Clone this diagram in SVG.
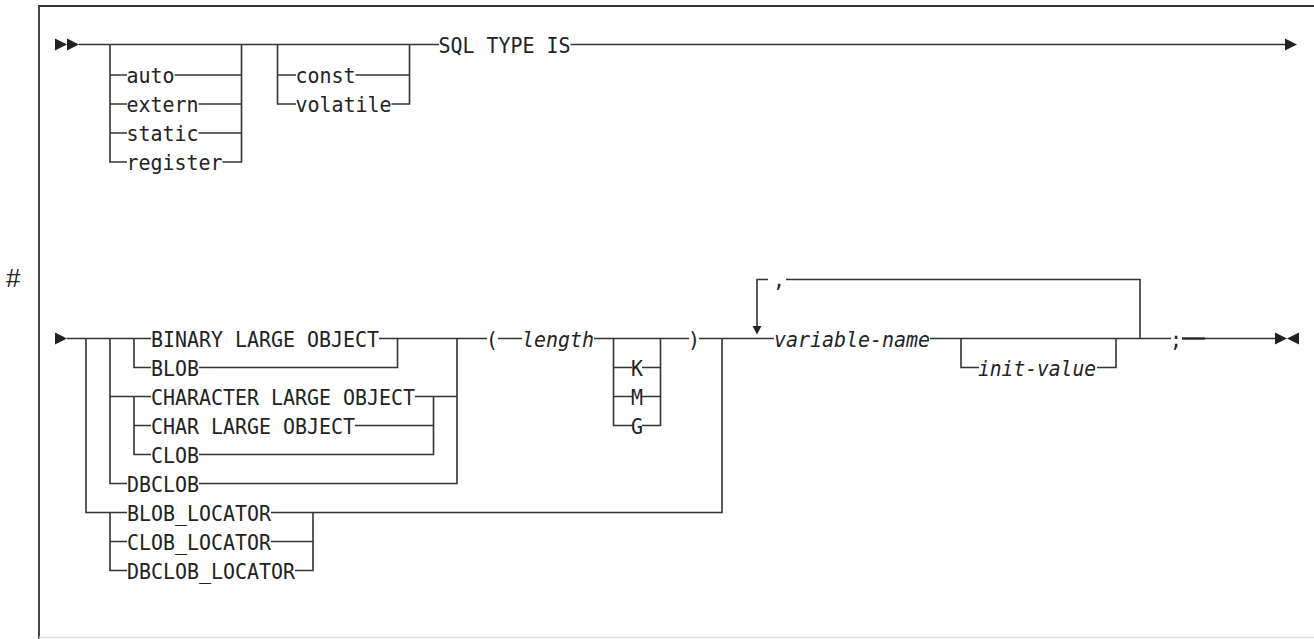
<svg xmlns="http://www.w3.org/2000/svg" width="1314" height="639" viewBox="0 0 1314 639">
<style>
.ln{stroke:#333;stroke-width:1.6;fill:none}
.thk{stroke:#222;stroke-width:2.4;fill:none}
.frame{stroke:#333;stroke-width:1.8;fill:none}
.ar{fill:#222;stroke:none}
.t{font-family:"DejaVu Sans Mono",monospace;font-size:22px;fill:#222}
.i{font-style:italic}
.h{font-family:"Liberation Sans",Arial,sans-serif;font-size:26px;fill:#222}
</style>
<rect width="1314" height="639" fill="#fff"/>
<g id="frame">
<path class="frame" d="M1314 6 H39 V639"/>
<path d="M39 637.5 H1314" stroke="#ddd" stroke-width="1.5"/>
<text class="h" x="6" y="286.5">#</text>
</g>
<g id="connectors">
<!-- top row -->
<path class="ln" d="M79 44.5 H439 M570.5 44.5 H1286"/>
<path class="ln" d="M110 44.5 V162 H127 M110 75 H127 M110 104 H127 M110 133 H127"/>
<path class="ln" d="M241.5 44.5 V162 H222.5 M174.5 75 H241.5 M198.5 104 H241.5 M198.5 133 H241.5"/>
<path class="ln" d="M277.5 44.5 V104 H296 M277.5 75 H296"/>
<path class="ln" d="M409.5 44.5 V104 H391.5 M355.5 75 H409.5"/>
<!-- bottom row main -->
<path class="ln" d="M67 338.5 H151 M379 338.5 H487 M498 338.5 H522 M594 338.5 H689 M699 338.5 H774 M930 338.5 H1171"/>
<path class="thk" d="M1182 338.5 H1205"/>
<path class="ln" d="M1205 338.5 H1276"/>
<!-- LOB groups -->
<path class="ln" d="M86 338.5 V512.5 H127"/>
<path class="ln" d="M110 338.5 V483.5 H127 M110 396.5 H151"/>
<path class="ln" d="M134 338.5 V367.5 H151"/>
<path class="ln" d="M134 396.5 V454.5 H151 M134 425.5 H151"/>
<path class="ln" d="M397.5 338.5 V367.5 H199"/>
<path class="ln" d="M433.5 396.5 V454.5 H199 M355 425.5 H433.5 M415 396.5 H457"/>
<path class="ln" d="M457 338.5 V483.5 H199"/>
<!-- locator group -->
<path class="ln" d="M110 512.5 V570.5 H127 M110 541.5 H127"/>
<path class="ln" d="M313 512.5 V570.5 H295 M271 541.5 H313"/>
<path class="ln" d="M271 512.5 H722 V338.5"/>
<!-- K M G -->
<path class="ln" d="M613.5 338.5 V425.5 H632 M613.5 367.5 H632 M613.5 396.5 H632"/>
<path class="ln" d="M660.5 338.5 V425.5 H642 M642 367.5 H660.5 M642 396.5 H660.5"/>
<!-- repeat loop -->
<path class="ln" d="M757 327 V279.5 H768 M786 279.5 H1140 V338.5"/>
<polygon class="ar" points="752.5,326 761.5,326 757,334.5"/>
<!-- init-value -->
<path class="ln" d="M961 338.5 V367.5 H979 M1097 367.5 H1116 V338.5"/>
<!-- arrows -->
<polygon class="ar" points="55,38.5 67,44.5 55,50.5"/>
<polygon class="ar" points="67,38.5 79,44.5 67,50.5"/>
<polygon class="ar" points="1285,38.5 1297,44.5 1285,50.5"/>
<polygon class="ar" points="55,332.5 67,338.5 55,344.5"/>
<polygon class="ar" points="1275,332.5 1287,338.5 1275,344.5"/>
<polygon class="ar" points="1299,332.5 1287,338.5 1299,344.5"/>
</g>
<g id="n-auto"><text class="t" x="126.5" y="83" textLength="48" lengthAdjust="spacingAndGlyphs">auto</text></g>
<g id="n-extern"><text class="t" x="126.5" y="112" textLength="72" lengthAdjust="spacingAndGlyphs">extern</text></g>
<g id="n-static"><text class="t" x="126.5" y="141" textLength="72" lengthAdjust="spacingAndGlyphs">static</text></g>
<g id="n-register"><text class="t" x="126.5" y="170" textLength="96" lengthAdjust="spacingAndGlyphs">register</text></g>
<g id="n-const"><text class="t" x="295.5" y="83" textLength="60" lengthAdjust="spacingAndGlyphs">const</text></g>
<g id="n-volatile"><text class="t" x="295.5" y="112" textLength="96" lengthAdjust="spacingAndGlyphs">volatile</text></g>
<g id="n-sqltype"><text class="t" x="438.5" y="52.5" textLength="132" lengthAdjust="spacingAndGlyphs">SQL TYPE IS</text></g>
<g id="n-binary"><text class="t" x="151" y="346.5" textLength="228" lengthAdjust="spacingAndGlyphs">BINARY LARGE OBJECT</text></g>
<g id="n-blob"><text class="t" x="151" y="375.5" textLength="48" lengthAdjust="spacingAndGlyphs">BLOB</text></g>
<g id="n-character"><text class="t" x="151" y="404.5" textLength="264" lengthAdjust="spacingAndGlyphs">CHARACTER LARGE OBJECT</text></g>
<g id="n-char"><text class="t" x="151" y="433.5" textLength="204" lengthAdjust="spacingAndGlyphs">CHAR LARGE OBJECT</text></g>
<g id="n-clob"><text class="t" x="151" y="462.5" textLength="48" lengthAdjust="spacingAndGlyphs">CLOB</text></g>
<g id="n-dbclob"><text class="t" x="127" y="491.5" textLength="72" lengthAdjust="spacingAndGlyphs">DBCLOB</text></g>
<g id="n-blobloc"><text class="t" x="127" y="520.5" textLength="144" lengthAdjust="spacingAndGlyphs">BLOB_LOCATOR</text></g>
<g id="n-clobloc"><text class="t" x="127" y="549.5" textLength="144" lengthAdjust="spacingAndGlyphs">CLOB_LOCATOR</text></g>
<g id="n-dbclobloc"><text class="t" x="127" y="578.5" textLength="168" lengthAdjust="spacingAndGlyphs">DBCLOB_LOCATOR</text></g>
<g id="n-lparen"><text class="t" x="486" y="346.5" textLength="12" lengthAdjust="spacingAndGlyphs">(</text></g>
<g id="n-length"><text class="t i" x="522" y="346.5" textLength="72" lengthAdjust="spacingAndGlyphs">length</text></g>
<g id="n-k"><text class="t" x="631" y="375.5" textLength="12" lengthAdjust="spacingAndGlyphs">K</text></g>
<g id="n-m"><text class="t" x="631" y="404.5" textLength="12" lengthAdjust="spacingAndGlyphs">M</text></g>
<g id="n-g"><text class="t" x="631" y="433.5" textLength="12" lengthAdjust="spacingAndGlyphs">G</text></g>
<g id="n-rparen"><text class="t" x="688" y="346.5" textLength="12" lengthAdjust="spacingAndGlyphs">)</text></g>
<g id="n-comma"><text class="t" x="773" y="287" textLength="12" lengthAdjust="spacingAndGlyphs">,</text></g>
<g id="n-varname"><text class="t i" x="774" y="346.5" textLength="156" lengthAdjust="spacingAndGlyphs">variable-name</text></g>
<g id="n-init"><text class="t i" x="978" y="375.5" textLength="118" lengthAdjust="spacingAndGlyphs">init-value</text></g>
<g id="n-semi"><text class="t" x="1170" y="346.5" textLength="12" lengthAdjust="spacingAndGlyphs">;</text></g>
</svg>
